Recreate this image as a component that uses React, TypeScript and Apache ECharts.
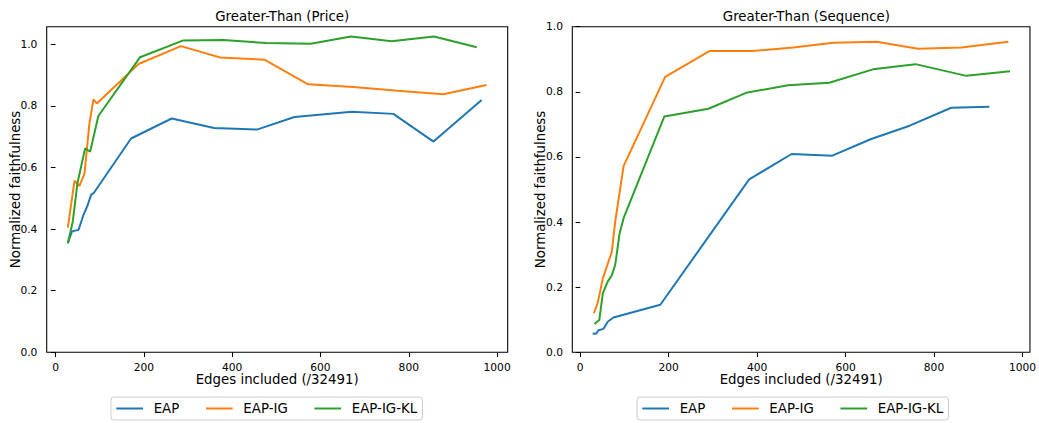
import React, { useEffect, useRef } from "react";
import * as echarts from "echarts";

const seriesNames = ["EAP", "EAP-IG", "EAP-IG-KL"];
const seriesColors = ["#1f77b4", "#ff7f0e", "#2ca02c"];
const titles = ["Greater-Than (Price)", "Greater-Than (Sequence)"];
const xTicks = [0, 200, 400, 600, 800, 1000];
const yTicks = [0, 0.2, 0.4, 0.6, 0.8, 1.0];

// Left chart: Greater-Than (Price)
const priceEAP = [
  [27.8, 0.354], [37, 0.392], [44, 0.395], [52, 0.397], [63, 0.445], [72, 0.475],
  [80.6, 0.511], [87, 0.518], [171, 0.694], [263, 0.759], [359, 0.728], [456, 0.723],
  [541, 0.764], [671, 0.781], [765, 0.774], [856, 0.684], [965, 0.819],
];
const priceEAPIG = [
  [27.8, 0.405], [43, 0.557], [54, 0.54], [65.5, 0.579], [76.8, 0.743], [85.8, 0.821],
  [93.5, 0.808], [188, 0.936], [284, 0.994], [373, 0.957], [473, 0.95], [572, 0.87],
  [674, 0.861], [775, 0.849], [878, 0.838], [976, 0.868],
];
const priceEAPIGKL = [
  [27.8, 0.354], [39, 0.424], [49.6, 0.549], [67, 0.662], [78.3, 0.651], [97, 0.767],
  [191.5, 0.958], [288, 1.012], [380, 1.014], [477, 1.004], [578, 1.002], [669, 1.025],
  [761, 1.01], [857, 1.025], [954, 0.99],
];

// Right chart: Greater-Than (Sequence)
const seqEAP = [
  [28, 0.058], [36, 0.057], [41, 0.068], [52.6, 0.072], [62, 0.094], [75, 0.107],
  [181, 0.146], [382, 0.531], [478, 0.609], [570, 0.604], [658, 0.655], [745, 0.696],
  [839, 0.751], [925, 0.754],
];
const seqEAPIG = [
  [31, 0.12], [40, 0.155], [51, 0.227], [71.5, 0.309], [79, 0.401], [98, 0.572],
  [192, 0.846], [292, 0.925], [388, 0.925], [482, 0.936], [572, 0.951], [670, 0.954],
  [764, 0.932], [862, 0.936], [968, 0.954],
];
const seqEAPIGKL = [
  [32, 0.087], [43, 0.099], [51, 0.181], [62, 0.217], [71.5, 0.237], [79, 0.268],
  [89, 0.365], [98, 0.412], [190, 0.724], [290, 0.748], [375, 0.797], [470, 0.82],
  [563, 0.828], [662, 0.869], [758, 0.885], [873, 0.849], [972, 0.863],
];

const FONT = "DejaVu Sans";

export default function App() {
  const ref = useRef<HTMLDivElement>(null);

  useEffect(() => {
    document.body.style.margin = "0";
    if (!ref.current) return;
    const chart = echarts.init(ref.current, undefined, { renderer: "svg" });

    const grids = [
      { left: 46.7, top: 26.7, width: 461, height: 325.6 },
      { left: 572.3, top: 26.7, width: 458.2, height: 325.6 },
    ];
    const xRanges = [
      [-20, 1024],
      [-18, 1017],
    ];
    const yMax = [1.057, 1.0];
    const legendLeft = [111, 637];
    const data = [
      [priceEAP, priceEAPIG, priceEAPIGKL],
      [seqEAP, seqEAPIG, seqEAPIGKL],
    ];

    const tickStyle = { color: "#000", width: 1.07 };
    const labelStyle = { fontSize: 10.67, color: "#000", fontFamily: FONT };
    const nameStyle = { fontSize: 13.33, color: "#000", fontFamily: FONT };

    const option: any = {
      animation: false,
      textStyle: { fontFamily: FONT },
      title: grids.map((g, i) => ({
        text: titles[i],
        left: g.left + g.width / 2,
        top: 5,
        textAlign: "center",
        textStyle: { fontSize: 13.33, fontWeight: "normal", color: "#000", fontFamily: FONT },
      })),
      grid: grids.map((g) => ({
        ...g,
        show: true,
        borderColor: "#000",
        borderWidth: 1.07,
        backgroundColor: "transparent",
        containLabel: false,
      })),
      xAxis: grids.map((g, i) => ({
        gridIndex: i,
        type: "value",
        min: xRanges[i][0],
        max: xRanges[i][1],
        axisLine: { show: false },
        axisTick: { show: true, customValues: xTicks, length: 4.67, lineStyle: tickStyle },
        axisLabel: { customValues: xTicks, margin: 9.3, ...labelStyle, formatter: (v: number) => String(v) },
        splitLine: { show: false },
        name: "Edges included (/32491)",
        nameLocation: "middle",
        nameGap: 21,
        nameMoveOverlap: false,
        nameTextStyle: nameStyle,
      })),
      yAxis: grids.map((g, i) => ({
        gridIndex: i,
        type: "value",
        min: 0,
        max: yMax[i],
        axisLine: { show: false },
        axisTick: { show: true, customValues: yTicks, length: 4.67, lineStyle: tickStyle },
        axisLabel: { customValues: yTicks, margin: 9.3, ...labelStyle, formatter: (v: number) => v.toFixed(1) },
        splitLine: { show: false },
        name: "Normalized faithfulness",
        nameLocation: "middle",
        nameGap: 25,
        nameMoveOverlap: false,
        nameTextStyle: nameStyle,
      })),
      legend: legendLeft.map((l) => ({
        data: seriesNames,
        left: l,
        top: 397,
        orient: "horizontal",
        icon: "rect",
        itemWidth: 26.7,
        itemHeight: 2,
        itemGap: 26.7,
        padding: [5, 5.3, 5, 5.3],
        borderColor: "#cccccc",
        borderWidth: 1,
        borderRadius: 3,
        backgroundColor: "#ffffff",
        formatter: (name: string) => `{t|${name}}`,
        textStyle: {
          fontSize: 13.33,
          color: "#000",
          fontFamily: FONT,
          rich: { t: { fontSize: 13.33, color: "#000", fontFamily: FONT, padding: [0, 0, 0, 5.7] } },
        },
      })),
      series: data.flatMap((group, gi) =>
        group.map((d, si) => ({
          name: seriesNames[si],
          type: "line",
          xAxisIndex: gi,
          yAxisIndex: gi,
          data: d,
          symbol: "none",
          showSymbol: false,
          color: seriesColors[si],
          lineStyle: { color: seriesColors[si], width: 2 },
          itemStyle: { color: seriesColors[si] },
        }))
      ),
    };

    chart.setOption(option);
    return () => chart.dispose();
  }, []);

  return <div ref={ref} style={{ width: 1039, height: 423 }} />;
}
